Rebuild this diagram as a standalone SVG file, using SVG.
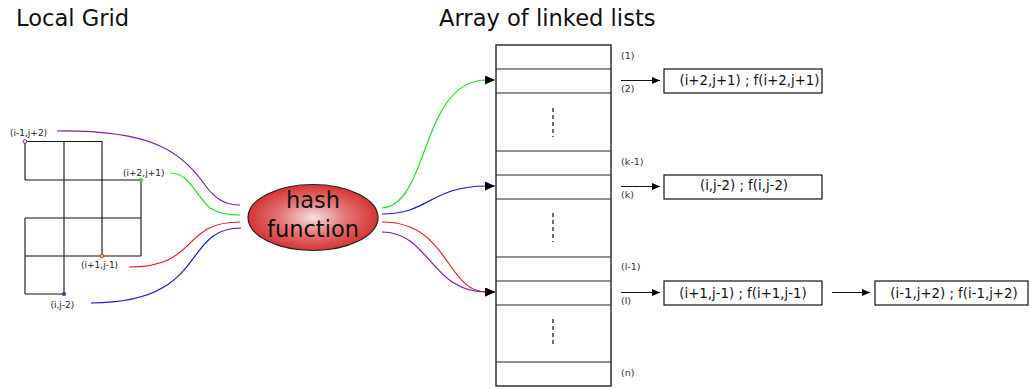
<svg xmlns="http://www.w3.org/2000/svg" width="1029" height="389" viewBox="0 0 1029 389">
<defs>
<radialGradient id="hg" cx="0.5" cy="0.5" r="0.5">
<stop offset="0" stop-color="#f6e0e0"/>
<stop offset="0.5" stop-color="#e47878"/>
<stop offset="1" stop-color="#d53434"/>
</radialGradient>
<marker id="ah" markerWidth="10" markerHeight="9" refX="10" refY="4.5" orient="auto" markerUnits="userSpaceOnUse">
<path d="M0,0 L10,4.5 L0,9 Z" fill="#000"/>
</marker>
<marker id="sh" markerWidth="8" markerHeight="7" refX="8" refY="3.5" orient="auto" markerUnits="userSpaceOnUse">
<path d="M0,0 L8,3.5 L0,7 Z" fill="#000"/>
</marker>
</defs>
<style>
text{font-family:"DejaVu Sans","Liberation Sans",sans-serif;fill:#111}
.title{font-size:22.6px}
.sm{font-size:9.5px;fill:#333}
.lab{font-size:9px;fill:#222}
.box{fill:#fff;stroke:#111;stroke-width:1.2}
.bt{font-size:13.3px;text-anchor:middle}
.grid{stroke:#111;stroke-width:1.1;fill:none}
.cell{stroke:#222;stroke-width:1.2;fill:none}
.dash{stroke:#111;stroke-width:1.2;stroke-dasharray:4,3}
.c{fill:none;stroke-width:1.2}
.ptr{stroke:#111;stroke-width:1.2;marker-end:url(#sh)}
</style>
<text class="title" x="16" y="26">Local Grid</text>
<text class="title" x="439" y="26">Array of linked lists</text>

<g id="grid">
<path class="grid" d="M25,141.5 H102 M25,180 H141 M25,218 H141 M25,256 H141 M25,294 H64 M25,141.5 V180 M25,218 V294 M64,141.5 V294 M102,141.5 V256 M141,180 V256"/>
<circle cx="25" cy="141.5" r="1.8" fill="#fff" stroke="#7a1fa0" stroke-width="1"/>
<circle cx="141" cy="180" r="2" fill="#2de02d"/>
<circle cx="102" cy="256" r="1.8" fill="#e8d020" stroke="#d02020" stroke-width="0.8"/>
<circle cx="64" cy="294" r="2" fill="#1a3ad0"/>
<text class="lab" x="10" y="135.5">(i-1,j+2)</text>
<text class="lab" x="123" y="175.5">(i+2,j+1)</text>
<text class="lab" x="81" y="268">(i+1,j-1)</text>
<text class="lab" x="50.5" y="307.5">(i,j-2)</text>
</g>

<g id="hash">
<ellipse cx="313" cy="217.5" rx="65" ry="33" fill="url(#hg)" stroke="#222" stroke-width="1.2"/>
<text x="313" y="207.5" font-size="22.5" text-anchor="middle">hash</text>
<text x="313" y="237" font-size="22.5" text-anchor="middle">function</text>
</g>

<g id="array">
<rect x="496" y="45" width="115" height="341" fill="#fff" stroke="#333" stroke-width="1.5"/>
<path class="cell" d="M496,69 H611 M496,93 H611 M496,151 H611 M496,175 H611 M496,199 H611 M496,257 H611 M496,281 H611 M496,305 H611 M496,362 H611"/>
<path class="dash" d="M553,108 V137 M553,213 V242 M553,319 V347"/>
<text class="sm" x="621" y="59">(1)</text>
<text class="sm" x="621" y="92">(2)</text>
<text class="sm" x="621" y="165">(k-1)</text>
<text class="sm" x="621" y="198">(k)</text>
<text class="sm" x="621" y="270">(l-1)</text>
<text class="sm" x="621" y="304">(l)</text>
<text class="sm" x="621" y="376">(n)</text>
</g>

<g id="list1">
<rect class="box" x="664" y="69" width="158" height="24"/>
<text class="bt" x="749.5" y="84.5">(i+2,j+1) ; f(i+2,j+1)</text>
</g>
<g id="list2">
<rect class="box" x="664" y="175" width="158" height="24"/>
<text class="bt" x="744" y="190">(i,j-2) ; f(i,j-2)</text>
</g>
<g id="list3a">
<rect class="box" x="664" y="281" width="158" height="24"/>
<text class="bt" x="743" y="297.5">(i+1,j-1) ; f(i+1,j-1)</text>
</g>
<g id="list3b">
<rect class="box" x="875" y="281" width="153" height="24"/>
<text class="bt" x="954" y="297.5">(i-1,j+2) ; f(i-1,j+2)</text>
</g>

<g id="connectors">
<path class="c" stroke="#7a1fa0" d="M57,131 C150,130 180,150 205,185 C215,199 225,205 240,205"/>
<path class="c" stroke="#22e022" d="M170,173 C190,173 195,195 210,208 C220,214 230,215 240,215"/>
<path class="c" stroke="#f01818" d="M129,267 C200,267 180,222 240,222"/>
<path class="c" stroke="#1818e0" d="M91,303 C210,303 180,228 241,228"/>
<path class="c" stroke="#22e022" marker-end="url(#ah)" d="M382,208 C430,205 420,80 487,80 L495,80"/>
<path class="c" stroke="#1818e0" marker-end="url(#ah)" d="M382,214 C430,214 430,186 487,186 L495,186"/>
<path class="c" stroke="#f01818" marker-end="url(#ah)" d="M382,222 C450,222 445,292 487,292 L495,292"/>
<path class="c" stroke="#7a1fa0" marker-end="url(#ah)" d="M382,232 C430,232 430,292 487,292 L495,292"/>
<line class="ptr" x1="621" y1="80.5" x2="660" y2="80.5"/>
<line class="ptr" x1="621" y1="186.5" x2="660" y2="186.5"/>
<line class="ptr" x1="621" y1="292.5" x2="660" y2="292.5"/>
<line class="ptr" x1="832" y1="292.5" x2="870" y2="292.5"/>
</g>
</svg>
